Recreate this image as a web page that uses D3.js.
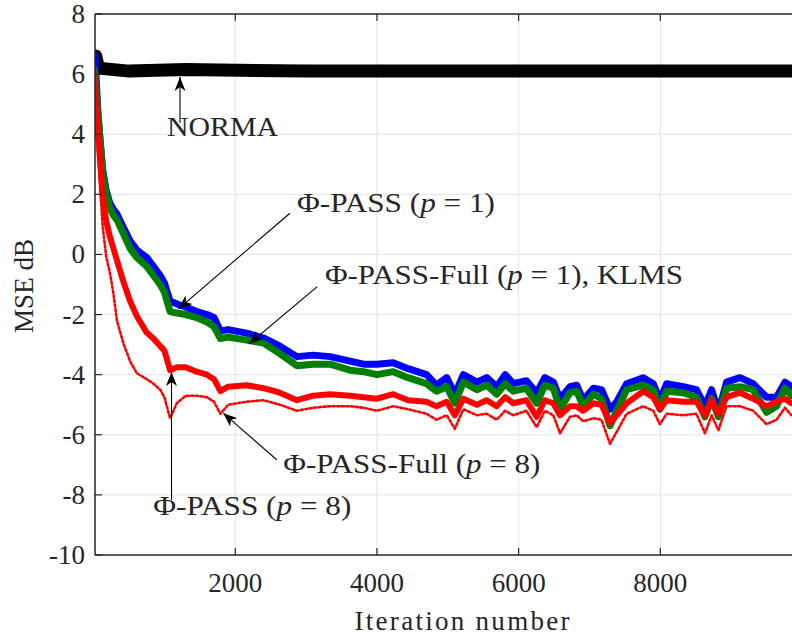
<!DOCTYPE html>
<html lang="en">
  <head>
    <meta charset="utf-8" />
    <title>MSE learning curves</title>
<script src="https://d3js.org/d3.v7.min.js"></script>
    <style>
        body { margin: 0; background: #fff; }
        text { font-family: "Liberation Serif", "DejaVu Serif", serif; fill: #262626; }
        .grid line { stroke: #e3e3e3; stroke-width: 1px; }
        .curve { fill: none; stroke-linejoin: round; stroke-linecap: round; }
        .ann { stroke: #000; stroke-width: 1.1px; fill: none; }
    </style>
  </head>
<body>
<script>

var iters = [0, 20, 60, 85, 130, 180, 230, 280, 330, 420, 515, 610, 750, 845, 940, 1000,
  1080, 1175, 1300, 1455, 1600, 1700, 1790, 1900, 2160, 2400, 2630, 2870, 3100, 3340,
  3620, 3810, 4000, 4230, 4440, 4700, 4840, 4985, 5100, 5220, 5410, 5550, 5690, 5810,
  5925, 6110, 6255, 6370, 6490, 6585, 6725, 6820, 6910, 7055, 7170, 7290, 7385, 7525,
  7760, 7900, 7995, 8090, 8325, 8510, 8630, 8725, 8820, 8935, 9125, 9310, 9500, 9640,
  9760, 9850, 10000];

// Phi-PASS (p = 1)  -- blue
var passP1 = [6.2, 6.6, 4.8, 4.0, 2.8, 2.1, 1.7, 1.5, 1.35, 0.9, 0.45, 0.15, -0.1, -0.4, -0.7, -0.95,
  -1.55, -1.65, -1.75, -1.9, -2.0, -2.1, -2.55, -2.5, -2.62, -2.78, -3.05, -3.4, -3.35, -3.4,
  -3.55, -3.65, -3.65, -3.6, -3.8, -4.0, -4.35, -4.1, -4.65, -4.0, -4.25, -4.1, -4.4, -4.0,
  -4.3, -4.2, -4.6, -4.1, -4.25, -4.8, -4.4, -4.35, -4.85, -4.45, -4.5, -5.15, -4.9, -4.3,
  -4.1, -4.3, -4.85, -4.3, -4.4, -4.5, -5.05, -4.5, -5.25, -4.25, -4.1, -4.3, -4.75, -4.75,
  -4.25, -4.4, -4.45];

// Phi-PASS-Full (p = 1), KLMS  -- green
var fullP1 = [6.2, 6.0, 4.7, 4.0, 2.7, 2.0, 1.55, 1.3, 1.15, 0.7, 0.2, -0.1, -0.4, -0.7, -1.0, -1.25,
  -1.9, -1.95, -2.0, -2.1, -2.25, -2.4, -2.8, -2.75, -2.85, -2.95, -3.3, -3.7, -3.65, -3.65,
  -3.85, -3.9, -4.0, -3.9, -4.1, -4.3, -4.55, -4.4, -4.95, -4.25, -4.5, -4.35, -4.65, -4.3,
  -4.55, -4.45, -4.95, -4.35, -4.45, -5.15, -4.6, -4.55, -5.05, -4.65, -4.8, -5.7, -5.2, -4.5,
  -4.35, -4.5, -5.15, -4.55, -4.6, -4.75, -5.4, -4.8, -5.4, -4.45, -4.4, -4.5, -5.25, -5.05,
  -4.45, -4.7, -4.7];

// Phi-PASS (p = 8)  -- red solid
var passP8 = [6.1, 5.6, 4.2, 3.4, 1.9, 1.1, 0.6, 0.2, -0.2, -0.9, -1.55, -2.05, -2.6, -2.8, -3.05, -3.2,
  -3.85, -3.75, -3.75, -3.9, -4.0, -4.15, -4.55, -4.4, -4.35, -4.45, -4.6, -4.85, -4.7, -4.65,
  -4.7, -4.75, -4.8, -4.65, -4.85, -4.9, -5.05, -4.9, -5.35, -4.8, -5.0, -4.85, -5.05, -4.75,
  -4.95, -4.85, -5.4, -4.85, -4.95, -5.35, -5.05, -5.05, -5.2, -4.95, -5.0, -5.6, -5.35, -4.95,
  -4.55, -4.75, -5.15, -4.85, -4.9, -4.9, -5.35, -4.85, -5.3, -4.75, -4.6, -4.8, -5.05, -4.9,
  -4.8, -4.95, -4.95];

// Phi-PASS-Full (p = 8)  -- red dotted
var fullP8 = [6.1, 5.2, 3.4, 2.5, 0.9, -0.1, -0.6, -1.3, -2.2, -2.95, -3.55, -3.95, -4.15, -4.3, -4.5, -4.75,
  -5.45, -4.95, -4.7, -4.7, -4.75, -4.9, -5.3, -5.0, -4.9, -4.85, -5.0, -5.2, -5.1, -5.05,
  -5.05, -5.1, -5.2, -5.05, -5.15, -5.3, -5.5, -5.35, -5.8, -5.15, -5.35, -5.3, -5.5, -5.2,
  -5.35, -5.2, -5.75, -5.2, -5.35, -5.95, -5.4, -5.35, -5.55, -5.45, -5.5, -6.3, -5.9, -5.3,
  -5.05, -5.2, -5.65, -5.3, -5.35, -5.3, -5.95, -5.35, -5.85, -5.05, -5.05, -5.2, -5.65, -5.5,
  -5.1, -5.35, -5.35];

// NORMA  -- black
var normaIters = [0, 30, 70, 500, 1300, 3000, 6000, 10000];
var normaVals = [6.2, 6.6, 6.2, 6.1, 6.15, 6.1, 6.1, 6.1];

var yTicks = [-10, -8, -6, -4, -2, 0, 2, 4, 6, 8];
var xTicks = [2000, 4000, 6000, 8000];

// annotations: [text, textIter, textVal, tailIter, tailVal, tipIter, tipVal, textWidth]
var notes = [
  ["NORMA", 1036, 3.94, 1220, 4.37, 1220, 5.9, 111],
  ["\u03A6-PASS (|p| = 1)", 2871, 1.41, 2772, 1.37, 1198, -1.81, 198],
  ["\u03A6-PASS-Full (|p| = 1), KLMS", 3266, -0.98, 3158, -1.07, 2194, -2.98, 358],
  ["\u03A6-PASS-Full (|p| = 8)", 2678, -7.27, 2585, -6.83, 1831, -5.28, 257],
  ["\u03A6-PASS (|p| = 8)", 843, -8.67, 1100, -8.17, 1100, -3.91, 198]
];

var W = 792, H = 638;
var x = d3.scaleLinear().domain([20, 10000]).range([95, 802]);
var y = d3.scaleLinear().domain([-10, 8]).range([555, 14]);

var svg = d3.select("body").append("svg")
    .attr("width", W)
    .attr("height", H);

svg.append("defs").append("clipPath").attr("id", "plot")
  .append("rect").attr("x", 95).attr("y", 14).attr("width", 707).attr("height", 541);

svg.select("defs").append("marker")
    .attr("id", "head")
    .attr("viewBox", "-14 -6 16 12")
    .attr("markerWidth", 16).attr("markerHeight", 12)
    .attr("markerUnits", "userSpaceOnUse")
    .attr("refX", 0).attr("refY", 0)
    .attr("orient", "auto")
  .append("path")
    .attr("d", "M0,0 L-14,-5.5 L-10,0 L-14,5.5 Z")
    .attr("fill", "#000");

// grid
var grid = svg.append("g").attr("class", "grid");
grid.selectAll(".gy").data(yTicks.slice(1, -1)).enter().append("line")
    .attr("x1", 95).attr("x2", 802)
    .attr("y1", function(d) { return y(d); }).attr("y2", function(d) { return y(d); });
grid.selectAll(".gx").data(xTicks).enter().append("line")
    .attr("y1", 14).attr("y2", 555)
    .attr("x1", function(d) { return x(d); }).attr("x2", function(d) { return x(d); });

// curves
var plot = svg.append("g").attr("clip-path", "url(#plot)");
var line = d3.line()
    .x(function(d) { return x(d[0]); })
    .y(function(d) { return y(d[1]); });

var zip = function(xs, ys) { return xs.map(function(v, i) { return [v, ys[i]]; }); };

plot.append("path").attr("class", "curve")
    .attr("d", line(zip(normaIters, normaVals)))
    .attr("stroke", "#000").attr("stroke-width", 13);
plot.append("path").attr("class", "curve")
    .attr("d", line(zip(iters, passP1)))
    .attr("stroke", "#0000ff").attr("stroke-width", 7);
plot.append("path").attr("class", "curve")
    .attr("d", line(zip(iters, fullP1)))
    .attr("stroke", "#008000").attr("stroke-width", 7);
plot.append("path").attr("class", "curve")
    .attr("d", line(zip(iters, passP8)))
    .attr("stroke", "#ff0000").attr("stroke-width", 6);
plot.append("path").attr("class", "curve")
    .attr("d", line(zip(iters, fullP8)))
    .attr("stroke", "#ff0000").attr("stroke-width", 2.6)
    .attr("stroke-linecap", "butt")
    .attr("stroke-dasharray", "2.2,2.4");

// axes box and ticks
svg.append("line").attr("x1", 95).attr("x2", 95).attr("y1", 14).attr("y2", 555)
    .attr("stroke", "#262626").attr("stroke-width", 1.5);
svg.append("line").attr("x1", 95).attr("x2", 802).attr("y1", 555).attr("y2", 555)
    .attr("stroke", "#262626").attr("stroke-width", 1.5);
svg.append("line").attr("x1", 95).attr("x2", 802).attr("y1", 14).attr("y2", 14)
    .attr("stroke", "#262626").attr("stroke-width", 1.5);

var ax = svg.append("g");
ax.selectAll(".ty").data(yTicks).enter().append("line")
    .attr("x1", 95).attr("x2", 102)
    .attr("y1", function(d) { return y(d); }).attr("y2", function(d) { return y(d); })
    .attr("stroke", "#262626").attr("stroke-width", 1.2);
ax.selectAll(".tb").data(xTicks).enter().append("line")
    .attr("y1", 555).attr("y2", 548)
    .attr("x1", function(d) { return x(d); }).attr("x2", function(d) { return x(d); })
    .attr("stroke", "#262626").attr("stroke-width", 1.2);
ax.selectAll(".tt").data(xTicks).enter().append("line")
    .attr("y1", 14).attr("y2", 21)
    .attr("x1", function(d) { return x(d); }).attr("x2", function(d) { return x(d); })
    .attr("stroke", "#262626").attr("stroke-width", 1.2);

ax.selectAll(".ly").data(yTicks).enter().append("text")
    .attr("x", 85)
    .attr("y", function(d) { return y(d) + 9; })
    .attr("text-anchor", "end")
    .attr("font-size", 27)
    .text(function(d) { return d < 0 ? "-" + Math.abs(d) : d; });
ax.selectAll(".lx").data(xTicks).enter().append("text")
    .attr("x", function(d) { return x(d); })
    .attr("y", 592)
    .attr("text-anchor", "middle")
    .attr("font-size", 27)
    .text(function(d) { return d; });

svg.append("text")
    .attr("x", 462).attr("y", 630)
    .attr("text-anchor", "middle")
    .attr("font-size", 27)
    .attr("textLength", 215)
    .text("Iteration number");

svg.append("text")
    .attr("transform", "translate(33,286) rotate(-90)")
    .attr("text-anchor", "middle")
    .attr("font-size", 27)
    .text("MSE dB");

// annotations with arrows
var ann = svg.append("g");
notes.forEach(function(n) {
  ann.append("line").attr("class", "ann")
      .attr("x1", x(n[3])).attr("y1", y(n[4]))
      .attr("x2", x(n[5])).attr("y2", y(n[6]))
      .attr("marker-end", "url(#head)");
  var t = ann.append("text")
      .attr("x", x(n[1])).attr("y", y(n[2]))
      .attr("font-size", 27)
      .attr("textLength", n[7])
      .attr("lengthAdjust", "spacingAndGlyphs");
  n[0].split("|").forEach(function(part, i) {
    t.append("tspan")
      .attr("font-style", i % 2 ? "italic" : "normal")
      .text(part);
  });
});

</script>
  </body>
</html>
